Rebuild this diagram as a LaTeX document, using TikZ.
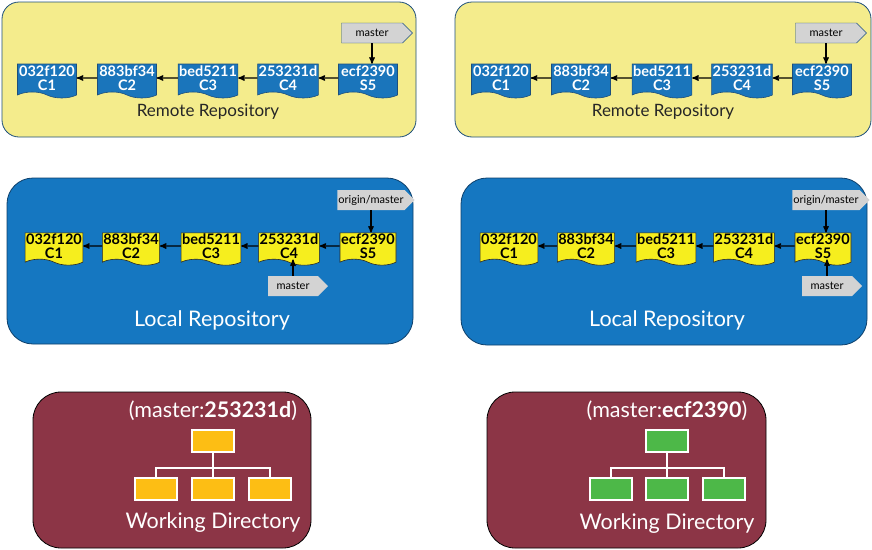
\documentclass[tikz,border=0pt]{standalone}
\usepackage{fontspec}
\setmainfont{Lato}
\usetikzlibrary{shapes,arrows,positioning}

\definecolor{remotefill}{HTML}{F4EC8C}
\definecolor{remoteline}{HTML}{1D4F7C}
\definecolor{localfill}{HTML}{1577C1}
\definecolor{localline}{HTML}{0D3F6A}
\definecolor{wdfill}{HTML}{8C3546}
\definecolor{bluecommit}{HTML}{1A75BB}
\definecolor{yellowcommit}{HTML}{F6EE1E}
\definecolor{taggray}{HTML}{D3D3D3}
\definecolor{oldfile}{HTML}{FDBE14}
\definecolor{newfile}{HTML}{4DB848}

\tikzset{
  remote/.style={draw=remoteline, fill=remotefill, rounded corners=17pt, line width=0.8pt},
  local/.style={draw=localline, fill=localfill, rounded corners=26pt, line width=0.8pt},
  workdir/.style={draw=black, fill=wdfill, rounded corners=28pt, line width=0.8pt},
  commit/.style={tape, tape bend top=none, tape bend bottom=out and in, tape bend height=6pt,
    align=center, inner sep=1pt, line width=0.6pt, font=\bfseries\fontsize{14.5}{13.5}\selectfont},
  rcommit/.style={commit, fill=bluecommit, draw=remoteline, text=white, minimum width=59pt, minimum height=34pt},
  lcommit/.style={commit, fill=yellowcommit, draw=black!85, minimum width=56pt, minimum height=30pt},
  tag/.style={signal, signal to=east, fill=taggray, inner sep=1pt, minimum height=20pt,
    font=\fontsize{11}{11}\selectfont},
  link/.style={-stealth', line width=1.3pt},
  leaf/.style={draw=white, line width=1.6pt, minimum width=42pt, minimum height=22pt},
  wire/.style={draw=white, line width=1.6pt},
  title/.style={font=\fontsize{21.5}{22}\selectfont, text=white}
}

\begin{document}
\begin{tikzpicture}[x=1pt,y=-1pt]
\useasboundingbox (0,0) rectangle (872,549);

% remote repositories
\draw[remote] (2,2) rectangle (416,137);
\draw[remote] (455,2) rectangle (871,137);
\node[rcommit] (ra1) at (47,78) {032f120\\C1};
\node[rcommit] (ra2) at (127,78) {883bf34\\C2};
\node[rcommit] (ra3) at (208,78) {bed5211\\C3};
\node[rcommit] (ra4) at (288,78) {253231d\\C4};
\node[rcommit] (ra5) at (368,78) {ecf2390\\S5};
\node[rcommit] (rb1) at (501,78) {032f120\\C1};
\node[rcommit] (rb2) at (581,78) {883bf34\\C2};
\node[rcommit] (rb3) at (662,78) {bed5211\\C3};
\node[rcommit] (rb4) at (742,78) {253231d\\C4};
\node[rcommit] (rb5) at (822,78) {ecf2390\\S5};
\node[tag, draw=remoteline, minimum width=71pt] (rma) at (372,33) {master};
\node[tag, draw=remoteline, minimum width=71pt] (rmb) at (826,33) {master};
\node[font=\fontsize{17}{17}\selectfont, text=black!85] (rta) at (208,112) {Remote Repository};
\node[font=\fontsize{17}{17}\selectfont, text=black!85] (rtb) at (663,112) {Remote Repository};
\draw[link] (ra2) -- (ra1);
\draw[link] (ra3) -- (ra2);
\draw[link] (ra4) -- (ra3);
\draw[link] (ra5) -- (ra4);
\draw[link] (rb2) -- (rb1);
\draw[link] (rb3) -- (rb2);
\draw[link] (rb4) -- (rb3);
\draw[link] (rb5) -- (rb4);
\draw[link] (rma.south) -- (rma.south |- ra5.north);
\draw[link] (rmb.south) -- (rmb.south |- rb5.north);

% local repositories
\draw[local] (7,178) rectangle (413,344);
\draw[local] (461,178) rectangle (867,345);
\node[lcommit] (la1) at (54,246) {032f120\\C1};
\node[lcommit] (la2) at (131,246) {883bf34\\C2};
\node[lcommit] (la3) at (211,246) {bed5211\\C3};
\node[lcommit] (la4) at (289,246) {253231d\\C4};
\node[lcommit] (la5) at (368,246) {ecf2390\\S5};
\node[lcommit] (lb1) at (509,246) {032f120\\C1};
\node[lcommit] (lb2) at (586,246) {883bf34\\C2};
\node[lcommit] (lb3) at (666,246) {bed5211\\C3};
\node[lcommit] (lb4) at (744,246) {253231d\\C4};
\node[lcommit] (lb5) at (823,246) {ecf2390\\S5};
\node[tag, minimum width=72pt] (loa) at (371,200) {origin/master};
\node[tag, minimum width=72pt] (lob) at (826,200) {origin/master};
\node[tag, minimum width=60pt] (lma) at (293,286) {master};
\node[tag, minimum width=60pt] (lmb) at (827,286) {master};
\node[title] (lta) at (212,320) {Local Repository};
\node[title] (ltb) at (667,320) {Local Repository};
\draw[link] (la2) -- (la1);
\draw[link] (la3) -- (la2);
\draw[link] (la4) -- (la3);
\draw[link] (la5) -- (la4);
\draw[link] (lb2) -- (lb1);
\draw[link] (lb3) -- (lb2);
\draw[link] (lb4) -- (lb3);
\draw[link] (lb5) -- (lb4);
\draw[link] (loa.south) -- (loa.south |- la5.north);
\draw[link] (lob.south) -- (lob.south |- lb5.north);
\draw[link] (lma.north) -- (lma.north |- la4.south);
\draw[link] (lmb.north) -- (lmb.north |- lb5.south);

% working directories
\draw[workdir] (33,392) rectangle (311,548);
\draw[workdir] (487,392) rectangle (766,548);
\node[title] (wta) at (213,411) {(master:\textbf{253231d})};
\node[title] (wtb) at (667,411) {(master:\textbf{ecf2390})};
\node[leaf, fill=oldfile] (wa0) at (213,441) {};
\node[leaf, fill=oldfile] (wa1) at (156,489) {};
\node[leaf, fill=oldfile] (wa2) at (213,489) {};
\node[leaf, fill=oldfile] (wa3) at (270,489) {};
\node[leaf, fill=newfile] (wb0) at (667,441) {};
\node[leaf, fill=newfile] (wb1) at (611,489) {};
\node[leaf, fill=newfile] (wb2) at (667,489) {};
\node[leaf, fill=newfile] (wb3) at (724,489) {};
\coordinate (ja) at (213,468);
\coordinate (jb) at (667,468);
\draw[wire] (wa0) -- (wa2);
\draw[wire] (wa1) |- (ja) -| (wa3);
\draw[wire] (wb0) -- (wb2);
\draw[wire] (wb1) |- (jb) -| (wb3);
\node[title] (wda) at (213,523) {Working Directory};
\node[title] (wdb) at (667,524) {Working Directory};

\end{tikzpicture}
\end{document}
